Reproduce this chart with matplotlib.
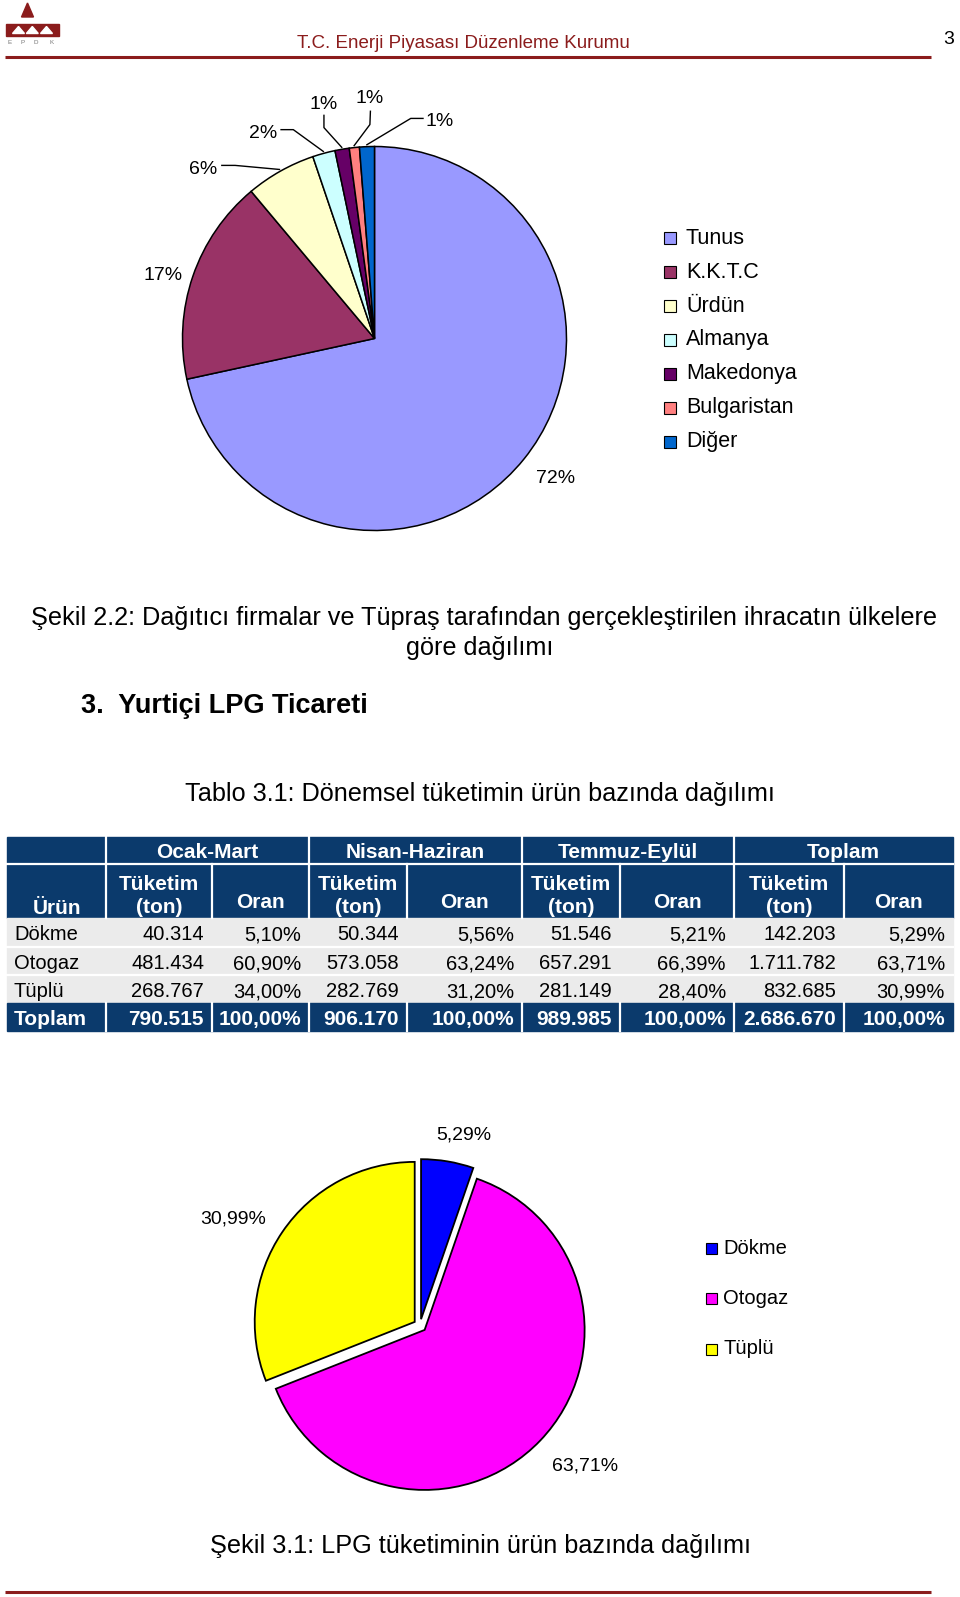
import matplotlib
matplotlib.use('Agg')
import matplotlib.pyplot as plt
from matplotlib.patches import Rectangle, Polygon
import numpy as np

plt.rcParams['font.family'] = ['Liberation Sans', 'DejaVu Sans']

# --- Sekil 2.2 verisi (ihracatin ulkelere gore dagilimi, %)
ulkeler = ['Tunus', 'K.K.T.C', 'Ürdün', 'Almanya', 'Makedonya', 'Bulgaristan', 'Diğer']
ihracat_pay = [71.6, 17.3, 5.9, 1.9, 1.2, 0.85, 1.25]
ulke_renk = ['#9999ff', '#993366', '#ffffcc', '#ccffff', '#660066', '#ff8080', '#0066cc']

# --- Tablo 3.1 verisi
urunler = ['Dökme', 'Otogaz', 'Tüplü']
donemler = ['Ocak-Mart', 'Nisan-Haziran', 'Temmuz-Eylül', 'Toplam']
tuketim_ocak = [40314, 481434, 268767]
tuketim_nisan = [50344, 573058, 282769]
tuketim_temmuz = [51546, 657291, 281149]
tuketim_toplam = [142203, 1711782, 832685]
oran_ocak = [5.10, 60.90, 34.00]
oran_nisan = [5.56, 63.24, 31.20]
oran_temmuz = [5.21, 66.39, 28.40]
oran_toplam = [5.29, 63.71, 30.99]
donem_toplam = [790515, 906170, 989985, 2686670]

# --- Sekil 3.1 verisi
urun_renk = ['#0000ff', '#ff00ff', '#ffff00']

W, H = 960, 1597
NAVY = '#0b3a6c'
MAROON = '#8b1c1c'


def tr_num(n):
    return f'{n:,}'.replace(',', '.')


def tr_pct(p):
    return f'{p:.2f}'.replace('.', ',') + '%'


fig = plt.figure(figsize=(W / 100, H / 100), dpi=100)
page = fig.add_axes([0, 0, 1, 1])
page.set_xlim(0, W)
page.set_ylim(H, 0)
page.axis('off')


def pie_axes(cx, cy, r, half):
    ax = fig.add_axes([(cx - half) / W, 1 - (cy + half) / H, 2 * half / W, 2 * half / H])
    ax.set_xlim(-half / r, half / r)
    ax.set_ylim(-half / r, half / r)
    ax.axis('off')
    return ax


def to_pie(px, py, cx, cy, r):
    return (px - cx) / r, (cy - py) / r


# header / logo
page.add_patch(Polygon([[27.5, 3], [21.5, 17], [33.5, 17]], closed=True, color=MAROON))
page.add_patch(Rectangle((5.5, 24), 53, 11.5, color=MAROON))
for tx in [18.5, 32.3, 46.5]:
    page.add_patch(Polygon([[tx, 26.5], [tx - 6, 33.5], [tx + 6, 33.5]], closed=True, color='white'))
for lx, ch in zip([10, 22.7, 36, 51.7], 'EPDK'):
    page.text(lx, 43, ch, fontsize=4.5, color='#777777', ha='center', va='center')
page.text(463, 43, 'T.C. Enerji Piyasası Düzenleme Kurumu', fontsize=13.5, color=MAROON,
          ha='center', va='center')
page.text(949, 40, '3', fontsize=14, ha='center', va='center')
page.plot([5, 931], [57, 57], color=MAROON, lw=2.2, solid_capstyle='butt')
page.plot([5, 931], [1592, 1592], color=MAROON, lw=2.2, solid_capstyle='butt')

# --- pie 1
c1x, c1y, r1 = 374.5, 338.5, 188
ax1 = pie_axes(c1x, c1y, r1, 240)
wedges1, _ = ax1.pie(ihracat_pay, colors=ulke_renk, startangle=90, counterclock=False,
                     radius=1, wedgeprops=dict(edgecolor='black', linewidth=1.1))
labels1 = [f'{v:.0f}%' for v in ihracat_pay]
# label layout: (text pos, line start, elbow) in page pixels
lay1 = [
    ((551.5, 476), None, None),
    ((167, 277), None, None),
    ((207, 173), (225, 169), (238, 169)),
    ((265.5, 138), (283, 134), (295, 134)),
    ((325, 109), (325, 120), (325, 132)),
    ((370, 103.5), (370.5, 116), (370, 129)),
    ((438, 126.5), (422, 123), (410, 123)),
]
for w, lab, (tp, ls, el) in zip(wedges1, labels1, lay1):
    tx, ty = to_pie(tp[0], tp[1], c1x, c1y, r1)
    ax1.text(tx, ty, lab, fontsize=14, ha='center', va='center')
    if ls is not None:
        mid = np.deg2rad((w.theta1 + w.theta2) / 2)
        ex, ey = 1.01 * np.cos(mid), 1.01 * np.sin(mid)
        sx, sy = to_pie(ls[0], ls[1], c1x, c1y, r1)
        bx, by = to_pie(el[0], el[1], c1x, c1y, r1)
        ax1.plot([sx, bx, ex], [sy, by, ey], color='black', lw=1)

# legend 1
for i, (name, col) in enumerate(zip(ulkeler, ulke_renk)):
    yy = 238 + i * 34
    page.add_patch(Rectangle((664, yy - 6), 12, 12, facecolor=col, edgecolor='black', lw=0.8))
    page.text(686, yy, name, fontsize=15.5, ha='left', va='center')

# captions
page.text(484, 618.5, 'Şekil 2.2: Dağıtıcı firmalar ve Tüpraş tarafından gerçekleştirilen ihracatın ülkelere',
          fontsize=18.2, ha='center', va='center')
page.text(480, 647.5, 'göre dağılımı', fontsize=18.2, ha='center', va='center')
page.text(81, 706, '3.  Yurtiçi LPG Ticareti', fontsize=19.5, fontweight='bold', ha='left', va='center')
page.text(480, 794.5, 'Tablo 3.1: Dönemsel tüketimin ürün bazında dağılımı', fontsize=18.2,
          ha='center', va='center')

# --- table
col_x = [7, 106, 212, 309, 407, 522, 620, 734, 844, 953]
row_y = [837, 864, 918, 947, 975, 1003, 1031]
tuketim = [tuketim_ocak, tuketim_nisan, tuketim_temmuz, tuketim_toplam]
oran = [oran_ocak, oran_nisan, oran_temmuz, oran_toplam]
TFS = 14.5
HFS = 15

page.add_patch(Rectangle((col_x[0], row_y[0]), col_x[-1] - col_x[0], row_y[2] - row_y[0], color=NAVY))
page.add_patch(Rectangle((col_x[0], row_y[2]), col_x[-1] - col_x[0], row_y[5] - row_y[2], color='#ebebeb'))
page.add_patch(Rectangle((col_x[0], row_y[5]), col_x[-1] - col_x[0], row_y[6] - row_y[5], color=NAVY))
for yy in [row_y[1], row_y[3], row_y[4]]:
    page.plot([col_x[0], col_x[-1]], [yy, yy], color='white', lw=1.6)
for j, xx in enumerate(col_x[1:-1]):
    y_top = row_y[0] if j % 2 == 0 else row_y[1]
    page.plot([xx, xx], [y_top, row_y[2]], color='white', lw=1.6)
    page.plot([xx, xx], [row_y[5], row_y[6]], color='white', lw=1.6)

page.text((col_x[0] + col_x[1]) / 2, 908, 'Ürün', fontsize=HFS, fontweight='bold', color='white',
          ha='center', va='center')
for k, d in enumerate(donemler):
    x0, x1, x2 = col_x[1 + 2 * k], col_x[2 + 2 * k], col_x[3 + 2 * k]
    page.text((x0 + x2) / 2, 853, d, fontsize=HFS, fontweight='bold', color='white', ha='center', va='center')
    page.text((x0 + x1) / 2, 884, 'Tüketim', fontsize=HFS, fontweight='bold', color='white', ha='center', va='center')
    page.text((x0 + x1) / 2, 907.5, '(ton)', fontsize=HFS, fontweight='bold', color='white', ha='center', va='center')
    page.text((x1 + x2) / 2, 902.5, 'Oran', fontsize=HFS, fontweight='bold', color='white', ha='center', va='center')
    for i in range(len(urunler)):
        yc = (row_y[2 + i] + row_y[3 + i]) / 2 + 2.5
        page.text(x1 - 8, yc, tr_num(tuketim[k][i]), fontsize=TFS, ha='right', va='center')
        page.text(x2 - 8, yc, tr_pct(oran[k][i]), fontsize=TFS, ha='right', va='center')
    yc = (row_y[5] + row_y[6]) / 2 + 2.5
    page.text(x1 - 8, yc, tr_num(donem_toplam[k]), fontsize=HFS, fontweight='bold', color='white',
              ha='right', va='center')
    page.text(x2 - 8, yc, tr_pct(100), fontsize=HFS, fontweight='bold', color='white', ha='right', va='center')
for i, u in enumerate(urunler):
    page.text(14, (row_y[2 + i] + row_y[3 + i]) / 2 + 2.5, u, fontsize=TFS, ha='left', va='center')
page.text(14, (row_y[5] + row_y[6]) / 2 + 2.5, 'Toplam', fontsize=HFS, fontweight='bold', color='white',
          ha='left', va='center')

# --- pie 2
c2x, c2y, r2 = 420, 1325.5, 167
ax2 = pie_axes(c2x, c2y, r2, 200)
wedges2, _ = ax2.pie(tuketim_toplam, colors=urun_renk, startangle=90, counterclock=False, radius=1,
                     explode=[0.04, 0.04, 0.04], wedgeprops=dict(edgecolor='black', linewidth=1.3))
total2 = sum(tuketim_toplam)
labels2 = [tr_pct(v / total2 * 100) for v in tuketim_toplam]
lay2 = [(464, 1135), (585, 1466), (233, 1219)]
for lab, (px, py) in zip(labels2, lay2):
    page.text(px, py, lab, fontsize=14, ha='center', va='center')

for i, (name, col) in enumerate(zip(urunler, urun_renk)):
    yy = 1248 + i * 50.5
    page.add_patch(Rectangle((706, yy - 5.5), 11, 11, facecolor=col, edgecolor='black', lw=0.8))
    page.text(723, yy, name, fontsize=14.5, ha='left', va='center')

page.text(480, 1546, 'Şekil 3.1: LPG tüketiminin ürün bazında dağılımı', fontsize=18.2,
          ha='center', va='center')

fig.savefig('out.png', dpi=100)
